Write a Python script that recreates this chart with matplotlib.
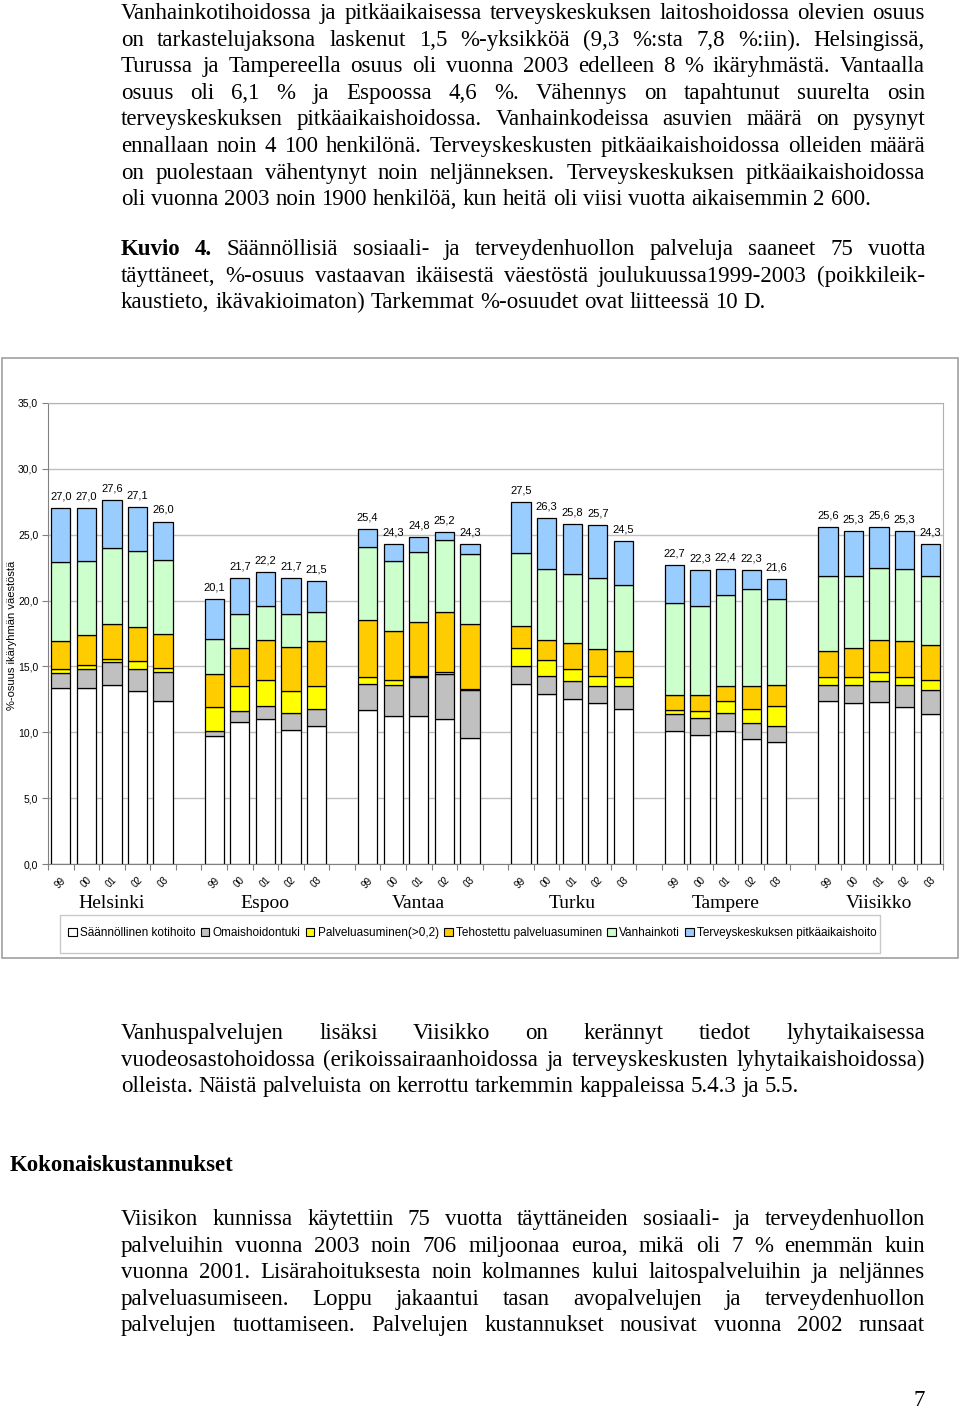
import numpy as np
import matplotlib.pyplot as plt
from matplotlib.patches import Patch, Rectangle

W, H = 960, 1412
SERIF = 'Liberation Serif'
SANS = 'Liberation Sans'

cities = ['Helsinki', 'Espoo', 'Vantaa', 'Turku', 'Tampere', 'Viisikko']
years = ['99', '00', '01', '02', '03']
series = ['Säännöllinen kotihoito', 'Omaishoidontuki', 'Palveluasuminen(>0,2)',
          'Tehostettu palveluasuminen', 'Vanhainkoti', 'Terveyskeskuksen pitkäaikaishoito']
colors = ['#FFFFFF', '#C0C0C0', '#FFFF00', '#FFCC00', '#CCFFCC', '#99CCFF']

# values per city, years 99..03
kotihoito = [13.4, 13.4, 13.6, 13.1, 12.4,   9.7, 10.8, 11.0, 10.2, 10.5,
             11.7, 11.2, 11.2, 11.0, 9.6,    13.7, 12.9, 12.5, 12.2, 11.8,
             10.1, 9.8, 10.1, 9.5, 9.3,      12.4, 12.2, 12.3, 11.9, 11.4]
omaishoito = [1.1, 1.4, 1.7, 1.7, 2.2,       0.4, 0.8, 1.0, 1.3, 1.3,
              2.0, 2.4, 3.0, 3.4, 3.6,       1.3, 1.4, 1.4, 1.3, 1.7,
              1.3, 1.3, 1.4, 1.2, 1.2,       1.2, 1.4, 1.6, 1.7, 1.8]
palveluas = [0.3, 0.3, 0.3, 0.6, 0.3,        1.8, 1.9, 2.0, 1.6, 1.7,
             0.5, 0.4, 0.1, 0.2, 0.1,        1.4, 1.2, 0.9, 0.8, 0.7,
             0.3, 0.5, 0.9, 1.1, 1.5,        0.6, 0.6, 0.7, 0.6, 0.8]
tehostettu = [2.1, 2.3, 2.6, 2.6, 2.6,       2.5, 2.9, 3.0, 3.4, 3.4,
              4.3, 3.7, 4.1, 4.5, 4.9,       1.7, 1.5, 2.0, 2.0, 2.0,
              1.1, 1.2, 1.1, 1.7, 1.6,       2.0, 2.2, 2.4, 2.7, 2.6]
vanhainkoti = [6.0, 5.6, 5.8, 5.8, 5.6,      2.7, 2.6, 2.6, 2.5, 2.2,
               5.6, 5.3, 5.3, 5.5, 5.3,      5.5, 5.4, 5.2, 5.4, 5.0,
               7.0, 6.8, 6.9, 7.4, 6.5,      5.7, 5.5, 5.5, 5.5, 5.3]
terveyskeskus = [4.1, 4.0, 3.6, 3.3, 2.9,    3.0, 2.7, 2.6, 2.7, 2.4,
                 1.3, 1.3, 1.1, 0.6, 0.8,    3.9, 3.9, 3.8, 4.0, 3.3,
                 2.9, 2.7, 2.0, 1.4, 1.5,    3.7, 3.4, 3.1, 2.9, 2.4]

data = np.array([kotihoito, omaishoito, palveluas, tehostettu, vanhainkoti, terveyskeskus])

fig = plt.figure(figsize=(W / 100, H / 100), dpi=100)
r = fig.canvas.get_renderer()

# ---- body text ----
FS = 16.5

def width(s, weight='normal'):
    t = fig.text(0, 0, s, fontsize=FS, family=SERIF, weight=weight)
    w = t.get_window_extent(renderer=r).width
    t.remove()
    return w

def line(s, y, justify=True, nbold=0, x0=121, x1=925):
    words = s.split()
    wts = ['bold' if i < nbold else 'normal' for i in range(len(words))]
    ws = [width(w, b) for w, b in zip(words, wts)]
    if justify and len(words) > 1:
        gap = (x1 - x0 - sum(ws)) / (len(words) - 1)
    else:
        gap = width('a a') - width('aa')
    x = x0
    for w, b, wd in zip(words, wts, ws):
        fig.text(x / W, 1 - y / H, w, fontsize=FS, family=SERIF, weight=b, va='baseline')
        x += wd + gap

def paragraph(lines, y0, nbold=0, last_justified=False):
    for i, s in enumerate(lines):
        last = (i == len(lines) - 1) and not last_justified
        line(s, y0 + i * 26.6, justify=not last, nbold=nbold if i == 0 else 0)

para1 = ['Vanhainkotihoidossa ja pitkäaikaisessa terveyskeskuksen laitoshoidossa olevien osuus',
         'on tarkastelujaksona laskenut 1,5 %-yksikköä (9,3 %:sta 7,8 %:iin). Helsingissä,',
         'Turussa ja Tampereella osuus oli vuonna 2003 edelleen 8 % ikäryhmästä. Vantaalla',
         'osuus oli 6,1 % ja Espoossa 4,6 %. Vähennys on tapahtunut suurelta osin',
         'terveyskeskuksen pitkäaikaishoidossa. Vanhainkodeissa asuvien määrä on pysynyt',
         'ennallaan noin 4 100 henkilönä. Terveyskeskusten pitkäaikaishoidossa olleiden määrä',
         'on puolestaan vähentynyt noin neljänneksen. Terveyskeskuksen pitkäaikaishoidossa',
         'oli vuonna 2003 noin 1900 henkilöä, kun heitä oli viisi vuotta aikaisemmin 2 600.']
para2 = ['Kuvio 4. Säännöllisiä sosiaali- ja terveydenhuollon palveluja saaneet 75 vuotta',
         'täyttäneet, %-osuus vastaavan ikäisestä väestöstä joulukuussa1999-2003 (poikkileik-',
         'kaustieto, ikävakioimaton) Tarkemmat %-osuudet ovat liitteessä 10 D.']
para3 = ['Vanhuspalvelujen lisäksi Viisikko on kerännyt tiedot lyhytaikaisessa',
         'vuodeosastohoidossa (erikoissairaanhoidossa ja terveyskeskusten lyhytaikaishoidossa)',
         'olleista. Näistä palveluista on kerrottu tarkemmin kappaleissa 5.4.3 ja 5.5.']
para4 = ['Viisikon kunnissa käytettiin 75 vuotta täyttäneiden sosiaali- ja terveydenhuollon',
         'palveluihin vuonna 2003 noin 706 miljoonaa euroa, mikä oli 7 % enemmän kuin',
         'vuonna 2001. Lisärahoituksesta noin kolmannes kului laitospalveluihin ja neljännes',
         'palveluasumiseen. Loppu jakaantui tasan avopalvelujen ja terveydenhuollon',
         'palvelujen tuottamiseen. Palvelujen kustannukset nousivat vuonna 2002 runsaat']

paragraph(para1, 19)
paragraph(para2, 255, nbold=2)
paragraph(para3, 1039)
paragraph(para4, 1225, last_justified=True)
fig.text(10 / W, 1 - 1171 / H, 'Kokonaiskustannukset', fontsize=FS, family=SERIF,
         weight='bold', va='baseline')
fig.text(925 / W, 1 - 1406 / H, '7', fontsize=FS, family=SERIF, ha='right', va='baseline')

# ---- chart ----
fig.patches.append(Rectangle((2 / W, 1 - 958 / H), 956 / W, 600 / H, transform=fig.transFigure,
                             fill=False, edgecolor='#a0a0a0', lw=1.2))
fig.patches.append(Rectangle((60 / W, 1 - 953 / H), 820 / W, 38 / H, transform=fig.transFigure,
                             fill=False, edgecolor='#c8c8c8', lw=1))

ax = fig.add_axes([48 / W, 1 - 864 / H, 895 / W, 461 / H])
x = np.array([6 * g + j + 0.5 for g in range(len(cities)) for j in range(len(years))])
bottom = np.zeros(len(x))
for i in range(len(series)):
    ax.bar(x, data[i], 0.75, bottom=bottom, color=colors[i], edgecolor='black', lw=0.9,
           label=series[i], zorder=3)
    bottom += data[i]
for xi, tot in zip(x, bottom):
    ax.text(xi, tot + 0.5, f'{tot:.1f}'.replace('.', ','), ha='center', va='bottom',
            fontsize=8, family=SANS)

ax.set_xlim(0, 35)
ax.set_ylim(0, 35)
ax.set_yticks(np.arange(0, 36, 5))
ax.set_yticklabels([f'{v:.1f}'.replace('.', ',') for v in np.arange(0, 36, 5)],
                   fontsize=7.5, family=SANS)
ax.yaxis.grid(True, color='#c0c0c0', lw=1, zorder=0)
ax.set_xticks(np.arange(0, 36))
ax.set_xticklabels([])
ax.set_xticks(x, minor=True)
ax.set_xticklabels(years * len(cities), minor=True, rotation=45, ha='right',
                   rotation_mode='anchor', fontsize=7, family=SANS)
ax.tick_params(axis='x', which='major', length=4, color='#808080')
ax.tick_params(axis='x', which='minor', length=0, pad=8)
ax.tick_params(axis='y', length=4, color='#808080', pad=3)
for s in ['top', 'right']:
    ax.spines[s].set_color('#b0b0b0')
for s in ['left', 'bottom']:
    ax.spines[s].set_color('#808080')
ax.set_ylabel('%-osuus ikäryhmän väestöstä', fontsize=8, family=SANS)
ax.yaxis.set_label_coords(-31 / 895, 0.495)

for g, c in enumerate(cities):
    ax.text(6 * g + 2.5, -0.085, c, transform=ax.get_xaxis_transform(), ha='center',
            va='center', fontsize=14, family=SERIF)

handles = [Patch(facecolor=colors[i], edgecolor='black', lw=0.8) for i in range(len(series))]
fig.legend(handles, series, loc='center left', bbox_to_anchor=(60 / W, 1 - 933 / H),
           ncol=6, prop={'family': SANS, 'size': 8.5}, handlelength=0.7,
           handleheight=0.7, handletextpad=0.3, columnspacing=0.45, borderpad=0.2,
           frameon=False)

fig.savefig('out.png', dpi=100)
